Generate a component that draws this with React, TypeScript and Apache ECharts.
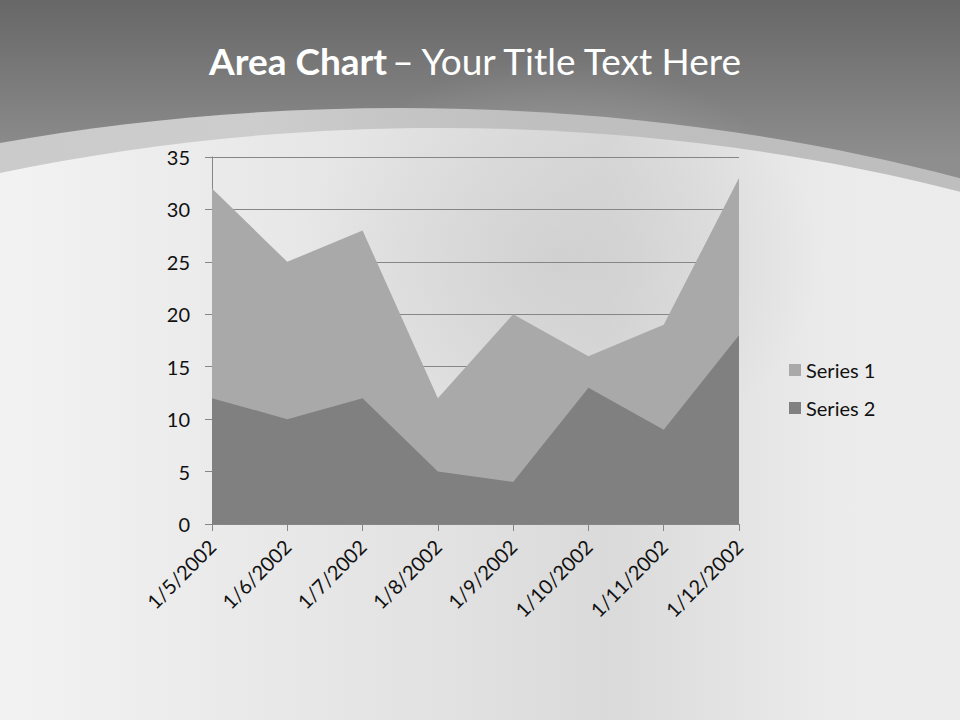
import React, { useEffect, useRef } from "react";
import * as echarts from "echarts";

const categories = ["1/5/2002", "1/6/2002", "1/7/2002", "1/8/2002", "1/9/2002", "1/10/2002", "1/11/2002", "1/12/2002"];
const series1 = [32, 25, 28, 12, 20, 16, 19, 33];
const series2 = [12, 10, 12, 5, 4, 13, 9, 18];
const seriesNames = ["Series 1", "Series 2"];
const yTicks = { min: 0, max: 35, interval: 5 };

const FONT = "Lato, 'Open Sans', sans-serif";

export default function App() {
  const ref = useRef<HTMLDivElement>(null);
  useEffect(() => {
    document.body.style.margin = "0";
    if (!ref.current) return;
    const chart = echarts.init(ref.current, null, { renderer: "svg" });
    chart.setOption({
      animation: false,
      backgroundColor: "#ffffff",
      title: {
        text: "{b|Area Chart} {r|– Your Title Text Here}",
        left: 204,
        top: 37,
        textStyle: {
          rich: {
            b: { fontFamily: FONT, fontSize: 37, fontWeight: "bold", color: "#ffffff" },
            r: { fontFamily: FONT, fontSize: 37, fontWeight: "normal", color: "#ffffff" },
          },
        },
      },
      graphic: [
        {
          type: "rect",
          z: -30,
          shape: { x: 0, y: 0, width: 960, height: 720 },
          style: {
            fill: new echarts.graphic.LinearGradient(0, 0, 0, 1, [
              { offset: 0, color: "#676767" },
              { offset: 0.22, color: "#8e8e8e" },
              { offset: 1, color: "#9a9a9a" },
            ]),
          },
        },
        {
          type: "ellipse",
          z: -29,
          shape: { cx: 400, cy: 108 + 843, rx: 1400, ry: 843 },
          style: {
            fill: new echarts.graphic.LinearGradient(0, 0, 1, 0, [
              { offset: 0, color: "#c2c2c2" },
              { offset: 0.45, color: "#cdcdcd" },
              { offset: 0.55, color: "#bdbdbd" },
              { offset: 1, color: "#c0c0c0" },
            ]),
          },
        },
        {
          type: "ellipse",
          z: -28,
          shape: { cx: 440, cy: 128 + 894, rx: 1400, ry: 894 },
          style: {
            fill: new echarts.graphic.LinearGradient(0, 0, 1, 0, [
              { offset: 0, color: "#f6f6f6" },
              { offset: 0.35, color: "#f2f2f2" },
              { offset: 0.5, color: "#e2e2e2" },
              { offset: 0.56, color: "#dadada" },
              { offset: 0.64, color: "#ebebeb" },
              { offset: 1, color: "#f4f4f4" },
            ]),
          },
        },
        {
          type: "ellipse",
          z: -27,
          shape: { cx: 560, cy: 260, rx: 260, ry: 200 },
          style: {
            fill: new echarts.graphic.RadialGradient(0.5, 0.5, 0.5, [
              { offset: 0, color: "rgba(200,200,200,0.55)" },
              { offset: 1, color: "rgba(200,200,200,0)" },
            ]),
          },
        },
      ],
      legend: {
        orient: "vertical",
        left: 784,
        top: 355,
        itemWidth: 12,
        itemHeight: 12,
        itemGap: 18,
        icon: "rect",
        data: seriesNames,
        textStyle: { fontFamily: FONT, fontSize: 20, color: "#111111" },
      },
      grid: { left: 212, right: 221, top: 157, bottom: 196, containLabel: false },
      xAxis: {
        type: "category",
        data: categories,
        boundaryGap: false,
        axisLine: { show: true, lineStyle: { color: "#868686" } },
        axisTick: { show: true, alignWithLabel: true, length: 7, lineStyle: { color: "#868686" } },
        axisLabel: {
          rotate: 45,
          interval: 0,
          margin: 19,
          fontFamily: FONT,
          fontSize: 20,
          color: "#111111",
        },
        splitLine: { show: false },
      },
      yAxis: {
        type: "value",
        min: yTicks.min,
        max: yTicks.max,
        interval: yTicks.interval,
        axisLine: { show: true, lineStyle: { color: "#868686" } },
        axisTick: { show: true, length: 7, lineStyle: { color: "#868686" } },
        axisLabel: { fontFamily: FONT, fontSize: 20, color: "#111111", margin: 22 },
        splitLine: { show: true, lineStyle: { color: "#868686", width: 1 } },
      },
      series: [
        {
          name: seriesNames[0],
          type: "line",
          data: series1,
          symbol: "none",
          lineStyle: { width: 0 },
          itemStyle: { color: "#a9a9a9" },
          areaStyle: { color: "#a9a9a9", opacity: 1 },
          z: 2,
        },
        {
          name: seriesNames[1],
          type: "line",
          data: series2,
          symbol: "none",
          lineStyle: { width: 0 },
          itemStyle: { color: "#808080" },
          areaStyle: { color: "#808080", opacity: 1 },
          z: 3,
        },
      ],
    });
    return () => chart.dispose();
  }, []);
  return <div ref={ref} style={{ width: 960, height: 720 }} />;
}
